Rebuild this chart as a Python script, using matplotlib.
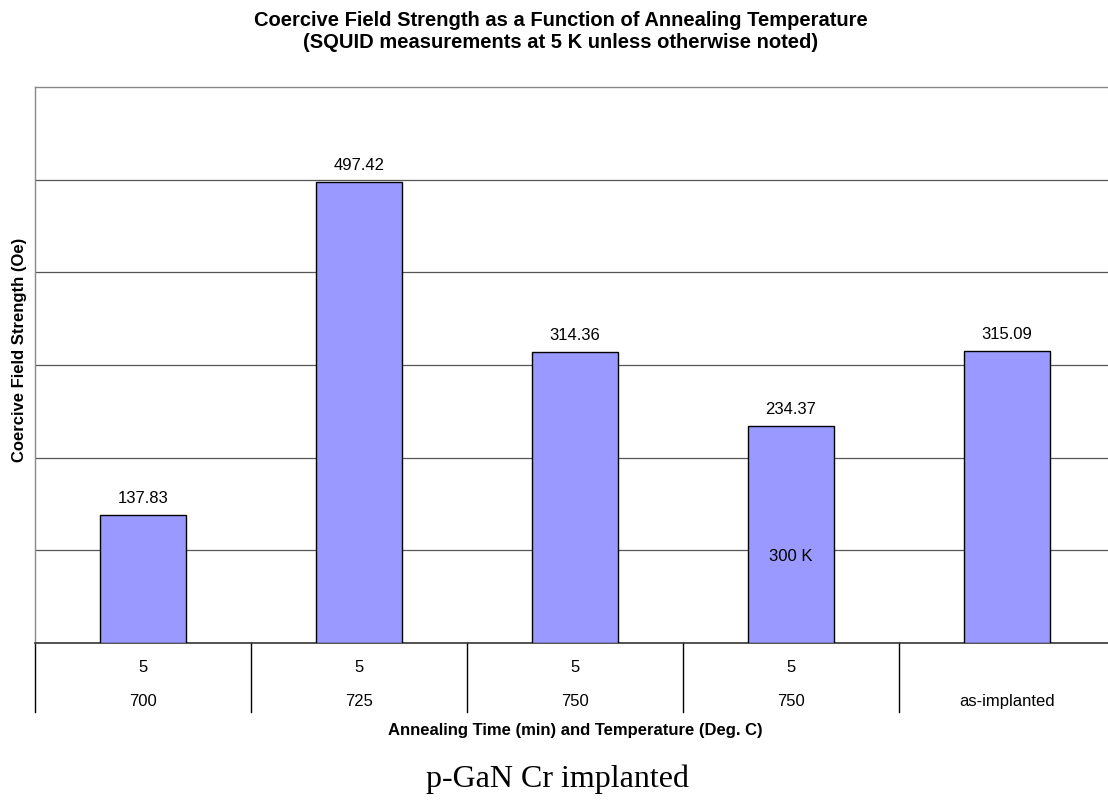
import matplotlib.pyplot as plt
import numpy as np

plt.rcParams['font.family'] = ['Liberation Sans', 'DejaVu Sans']

# Data
times = ['5', '5', '5', '5', '']
temps = ['700', '725', '750', '750', 'as-implanted']
coercive = [137.83, 497.42, 314.36, 234.37, 315.09]
notes = ['', '', '', '300 K', '']
note_y = 93

W, H = 1108, 805
fig = plt.figure(figsize=(W / 100, H / 100), dpi=100)
left, right, top, bottom = 35, 1115, 87, 643
ax = fig.add_axes([left / W, 1 - bottom / H, (right - left) / W, (bottom - top) / H])

x = np.arange(len(coercive)) + 0.5
bars = ax.bar(x, coercive, width=0.4, color='#9999FF', edgecolor='black', linewidth=1.0, zorder=3)

ax.set_xlim(0, len(coercive))
ax.set_ylim(0, 600)
ax.set_yticks([100, 200, 300, 400, 500])
ax.yaxis.grid(True, color='#555555', linewidth=0.9, zorder=0)
ax.tick_params(left=False, bottom=False, labelleft=False, labelbottom=False)
ax.set_xticks([])

for s in ['left', 'top']:
    ax.spines[s].set_color('#888888')
    ax.spines[s].set_linewidth(1.0)
ax.spines['right'].set_visible(False)
ax.spines['bottom'].set_color('#333333')
ax.spines['bottom'].set_linewidth(1.2)

# value labels
for xi, v in zip(x, coercive):
    ax.text(xi, v + 18, f'{v:.2f}', ha='center', va='center', fontsize=12)

for xi, n in zip(x, notes):
    if n:
        ax.text(xi, note_y, n, ha='center', va='center', fontsize=12)

# category separators and two-level labels
trans = ax.get_xaxis_transform()
ph = bottom - top
for b in range(len(coercive) + 1):
    ax.plot([b, b], [0, -69 / ph], transform=trans, color='black', linewidth=1.0, clip_on=False)
for xi, t, tp in zip(x, times, temps):
    ax.text(xi, -24 / ph, t, transform=trans, ha='center', va='center', fontsize=12)
    ax.text(xi, -58 / ph, tp, transform=trans, ha='center', va='center', fontsize=12)

ax.text(0.5, -87 / ph, 'Annealing Time (min) and Temperature (Deg. C)',
        transform=ax.transAxes, ha='center', va='center', fontsize=12, fontweight='bold')

fig.text(20 / W, 1 - 350 / H, 'Coercive Field Strength (Oe)', rotation=90,
         ha='center', va='center', fontsize=12, fontweight='bold')

fig.text(561 / W, 1 - 20 / H, 'Coercive Field Strength as a Function of Annealing Temperature',
         ha='center', va='center', fontsize=14.5, fontweight='bold')
fig.text(561 / W, 1 - 43 / H, '(SQUID measurements at 5 K unless otherwise noted)',
         ha='center', va='center', fontsize=14.5, fontweight='bold')

fig.text(557 / W, 1 - 779 / H, 'p-GaN Cr implanted', ha='center', va='center',
         fontsize=23, family=['Liberation Serif', 'DejaVu Serif'])

fig.savefig('out.png', dpi=100)
